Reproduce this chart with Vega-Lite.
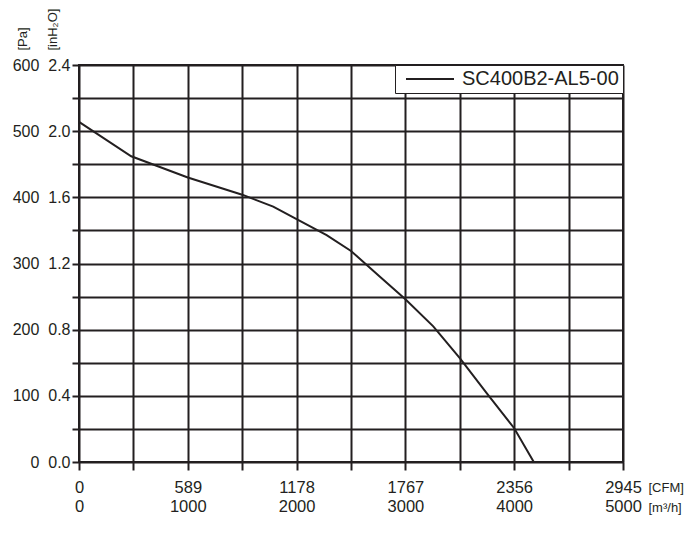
{
  "$schema": "https://vega.github.io/schema/vega-lite/v6.json",
  "width": 544,
  "height": 397,
  "autosize": {"type": "none"},
  "padding": {"left": 79, "top": 65, "right": 77, "bottom": 84},
  "background": "white",
  "data": {
    "values": [
      {"airflow": 0, "pressure": 514, "model": "SC400B2-AL5-00"},
      {"airflow": 480, "pressure": 462, "model": "SC400B2-AL5-00"},
      {"airflow": 1000, "pressure": 430, "model": "SC400B2-AL5-00"},
      {"airflow": 1500, "pressure": 404, "model": "SC400B2-AL5-00"},
      {"airflow": 1785, "pressure": 386, "model": "SC400B2-AL5-00"},
      {"airflow": 2000, "pressure": 367, "model": "SC400B2-AL5-00"},
      {"airflow": 2276, "pressure": 343, "model": "SC400B2-AL5-00"},
      {"airflow": 2500, "pressure": 319, "model": "SC400B2-AL5-00"},
      {"airflow": 2766, "pressure": 280, "model": "SC400B2-AL5-00"},
      {"airflow": 3000, "pressure": 246, "model": "SC400B2-AL5-00"},
      {"airflow": 3256, "pressure": 205, "model": "SC400B2-AL5-00"},
      {"airflow": 3500, "pressure": 157, "model": "SC400B2-AL5-00"},
      {"airflow": 3747, "pressure": 104, "model": "SC400B2-AL5-00"},
      {"airflow": 4000, "pressure": 51, "model": "SC400B2-AL5-00"},
      {"airflow": 4180, "pressure": 0, "model": "SC400B2-AL5-00"}
    ]
  },
  "mark": {"type": "line", "strokeWidth": 2},
  "encoding": {
    "x": {
      "field": "airflow",
      "type": "quantitative",
      "scale": {"domain": [0, 5000], "nice": false},
      "axis": {
        "values": [0, 500, 1000, 1500, 2000, 2500, 3000, 3500, 4000, 4500, 5000],
        "labelExpr": "datum.value % 1000 == 0 ? [format(round(datum.value * 0.589), 'd'), format(datum.value, 'd')] : ''",
        "grid": true,
        "gridColor": "#231f20",
        "gridWidth": 2,
        "gridOpacity": 1,
        "domain": false,
        "tickColor": "#231f20",
        "tickWidth": 2,
        "tickSize": 8,
        "labelPadding": 9,
        "labelFont": "Liberation Sans",
        "labelFontSize": 16.5,
        "labelColor": "#231f20",
        "labelLineHeight": 19,
        "labelFlush": false,
        "labelOverlap": false,
        "labelBaseline": "top",
        "title": ["[CFM]", "[m³/h]"],
        "titleFont": "Liberation Sans",
        "titleFontSize": 13,
        "titleFontWeight": "normal",
        "titleColor": "#231f20",
        "titleLineHeight": 20,
        "titleAlign": "left",
        "titleBaseline": "top",
        "titleAnchor": null,
        "titleX": 569,
        "titleY": 19
      }
    },
    "y": {
      "field": "pressure",
      "type": "quantitative",
      "scale": {"domain": [0, 600], "nice": false},
      "axis": {
        "values": [0, 50, 100, 150, 200, 250, 300, 350, 400, 450, 500, 550, 600],
        "labelExpr": "datum.value % 100 == 0 ? format(datum.value, 'd') + '\u00a0\u00a0' + format(datum.value / 250, '.1f') : ''",
        "grid": true,
        "gridColor": "#231f20",
        "gridWidth": 2,
        "gridOpacity": 1,
        "domain": false,
        "tickColor": "#231f20",
        "tickWidth": 2,
        "tickSize": 7,
        "labelPadding": 2,
        "labelFont": "Liberation Sans",
        "labelFontSize": 16,
        "labelColor": "#231f20",
        "labelFlush": false,
        "labelOverlap": false,
        "title": ["[Pa]", "[inH₂O]"],
        "titleFont": "Liberation Sans",
        "titleFontSize": 13,
        "titleFontWeight": "normal",
        "titleColor": "#231f20",
        "titleLineHeight": 30,
        "titleAngle": 270,
        "titleAlign": "left",
        "titleBaseline": "top",
        "titleAnchor": null,
        "titleX": -63,
        "titleY": -15
      }
    },
    "color": {
      "field": "model",
      "type": "nominal",
      "scale": {"range": ["#231f20"]},
      "legend": {
        "title": null,
        "orient": "top-right",
        "offset": 0,
        "padding": 4,
        "strokeColor": "#231f20",
        "fillColor": "white",
        "symbolType": "M-4,0H4",
        "symbolSize": 144,
        "symbolStrokeWidth": 2,
        "symbolOffset": 21,
        "labelOffset": 22,
        "labelFont": "Liberation Sans",
        "labelFontSize": 20,
        "labelColor": "#231f20",
        "labelLimit": 300
      }
    }
  },
  "config": {
    "view": {"stroke": "#231f20", "strokeWidth": 2}
  }
}
